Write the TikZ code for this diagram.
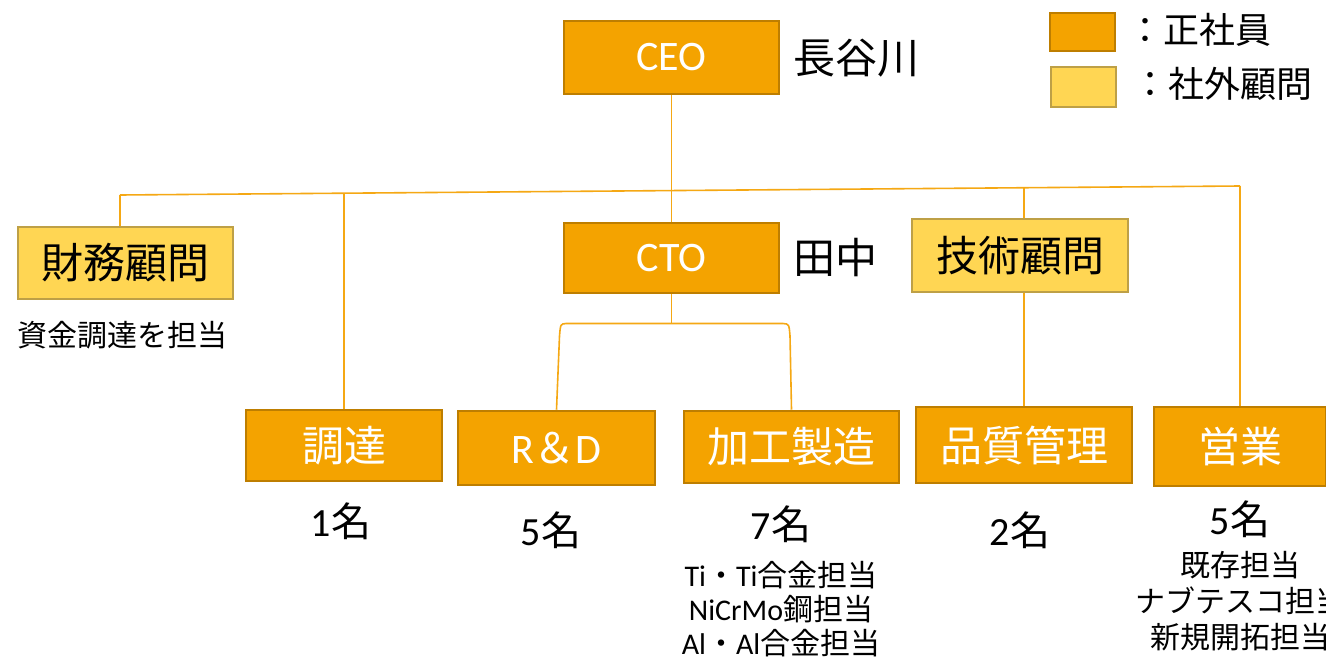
\documentclass[tikz,border=0pt]{standalone}
\usepackage{fontspec}
\setmainfont{Noto Sans CJK JP}
\newfontfamily\lat{Carlito}
\definecolor{orfill}{RGB}{244,163,0}
\definecolor{ordraw}{RGB}{190,126,0}
\definecolor{yefill}{RGB}{255,214,83}
\definecolor{yedraw}{RGB}{190,160,70}
\definecolor{conn}{RGB}{245,168,20}
\tikzset{
  staffbox/.style={draw=ordraw, fill=orfill, line width=1.9pt, text=white, inner sep=0pt,
    font=\fontsize{31.5}{36}\selectfont},
  advbox/.style={draw=yedraw, fill=yefill, line width=1.9pt, text=black, inner sep=0pt,
    font=\fontsize{31.5}{36}\selectfont},
  pname/.style={inner sep=0pt, text=black, font=\fontsize{31.5}{36}\selectfont},
  cnt/.style={inner sep=0pt, text=black, font=\fontsize{30}{34}\selectfont},
  smalltxt/.style={inner sep=0pt, text=black, font=\fontsize{22.5}{26}\selectfont},
  legtxt/.style={inner sep=0pt, text=black, font=\fontsize{27}{30}\selectfont},
  link/.style={draw=conn, line width=1.2pt}
}
\begin{document}
\begin{tikzpicture}[x=0.75pt,y=-0.75pt]
\useasboundingbox (0,0) rectangle (1326,660);
\fill[white] (0,0) rectangle (1326,660);
\clip (0,0) rectangle (1326,660);

% boxes (sizes in pt = px * 0.75)
\node[staffbox, minimum width=161.25pt, minimum height=54.75pt] (ceo) at (671.5,57.5) {\lat CEO};
\node[staffbox, minimum width=161.25pt, minimum height=52.5pt] (cto) at (671.5,258) {\lat CTO};
\node[advbox, minimum width=161.25pt, minimum height=54pt] (fin) at (125.5,263) {財務顧問};
\node[advbox, minimum width=162pt, minimum height=54.75pt] (tech) at (1020,255.5) {技術顧問};
\node[staffbox, minimum width=147pt, minimum height=53.25pt] (chou) at (344,445.5) {調達};
\node[staffbox, minimum width=147.75pt, minimum height=55.5pt] (rd) at (556.5,448) {{\lat R}＆{\lat D}};
\node[staffbox, minimum width=161.25pt, minimum height=54pt] (kako) at (791.5,447) {加工製造};
\node[staffbox, minimum width=162pt, minimum height=57pt] (hin) at (1024,445) {品質管理};
\node[staffbox, minimum width=129pt, minimum height=59.25pt] (ei) at (1240,446.5) {営業};

% legend
\node[staffbox, minimum width=48.75pt, minimum height=28.5pt] (lg1) at (1082.5,32) {};
\node[advbox, minimum width=48.75pt, minimum height=30pt] (lg2) at (1083.5,87) {};
\node[legtxt, anchor=west] (lg1t) at (1127,30) {：正社員};
\node[legtxt, anchor=west] (lg2t) at (1132,84) {：社外顧問};

% names and labels
\node[pname, anchor=west] (ceoname) at (793,58) {長谷川};
\node[pname, anchor=west] (ctoname) at (793,258) {田中};
\node[smalltxt] (finnote) at (122,335) {資金調達を担当};
\node[cnt] (c1) at (341,521) {{\lat 1}名};
\node[cnt] (c2) at (551,530) {{\lat 5}名};
\node[cnt] (c3) at (781,524) {{\lat 7}名};
\node[cnt] (c4) at (1020,530) {{\lat 2}名};
\node[cnt] (c5) at (1240,519) {{\lat 5}名};
\node[smalltxt] (k1) at (781,575) {{\lat Ti}・{\lat Ti}合金担当};
\node[smalltxt] (k2) at (781,609) {{\lat NiCrMo}鋼担当};
\node[smalltxt] (k3) at (781,643) {{\lat Al}・{\lat Al}合金担当};
\node[smalltxt] (e1) at (1240,565) {既存担当};
\node[smalltxt] (e2) at (1240,601) {ナブテスコ担当};
\node[smalltxt] (e3) at (1240,637) {新規開拓担当};

% connectors
\coordinate (busL) at (120,195);
\coordinate (busR) at (1240,186);
\draw[link] (busL) -- (busR);
\draw[link] (ceo.south) -- (cto.north);
\draw[link] (busL) -- (fin.north -| busL);
\draw[link] (chou.north) -- (344,193.2);
\draw[link] (tech.north -| hin.north) -- (1024,187.8);
\draw[link] (ei.north) -- (busR);
\draw[link] (tech.south -| hin.north) -- (hin.north);
\coordinate (ctob) at (671.5,323.5);
\draw[link] (cto.south) -- (ctob);
\draw[link] (rd.north) -- (559.5,336) .. controls (560.5,324) .. (566,323.5) -- (783,323.5)
  .. controls (789,324) .. (790,336) -- (kako.north);
\end{tikzpicture}
\end{document}
